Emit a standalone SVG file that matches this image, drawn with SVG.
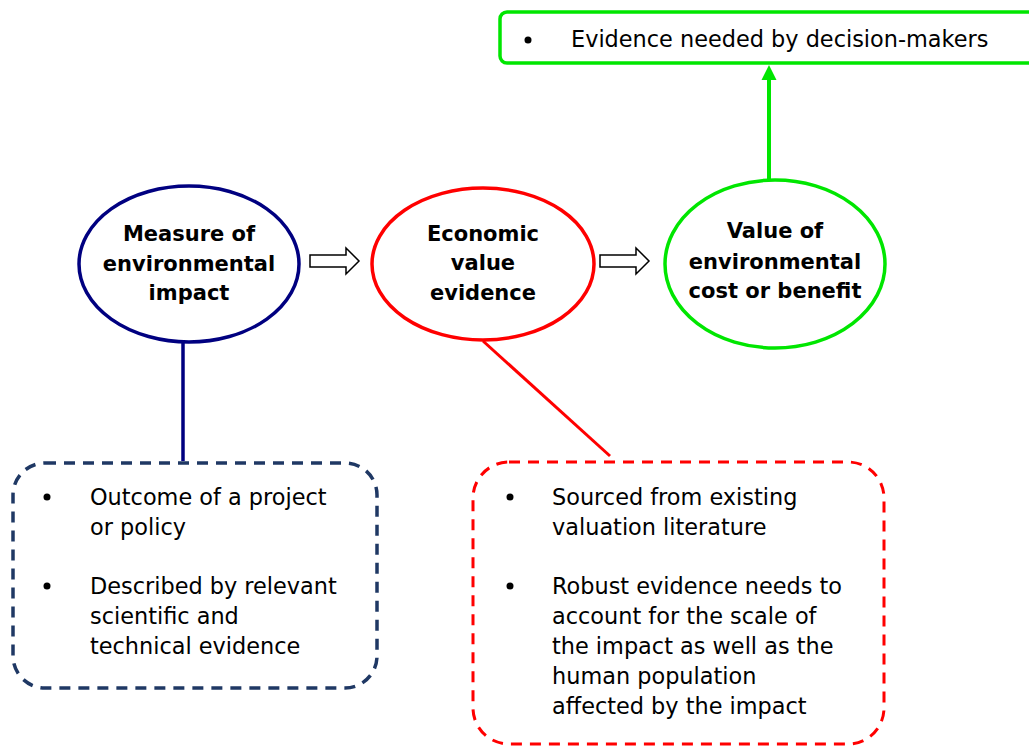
<svg xmlns="http://www.w3.org/2000/svg" width="1029" height="746" viewBox="0 0 1029 746">
<style>
text{font-family:"DejaVu Sans",sans-serif;font-size:22.4px;fill:#000}
.b{font-weight:bold;text-anchor:middle;font-size:21px}
.dot{fill:#000}
</style>
<defs>
<path id="harrow" d="M0,-6 L36,-6 L36,-13 L49,0 L36,13 L36,6 L0,6 Z" fill="#fff" stroke="#000" stroke-width="1.5"/>
</defs>
<rect width="1029" height="746" fill="#fff"/>
<g id="connectors">
<line x1="769" y1="180" x2="769" y2="78" stroke="#00e600" stroke-width="4"/>
<polygon points="769,65 776.5,80 761.5,80" fill="#00e600"/>
<line x1="183" y1="342" x2="183" y2="461" stroke="#000080" stroke-width="3.5"/>
<line x1="483" y1="341" x2="610" y2="456" stroke="#ff0000" stroke-width="3"/>
<use href="#harrow" x="310" y="261"/>
<use href="#harrow" x="600" y="261"/>
</g>
<g id="top-box">
<rect x="500" y="12" width="545" height="51" rx="7" fill="#fff" stroke="#00e600" stroke-width="3.5"/>
<circle class="dot" cx="528" cy="40" r="3.5"/>
<text x="571" y="47">Evidence needed by decision-makers</text>
</g>
<g id="measure">
<ellipse cx="189" cy="264" rx="110" ry="78" fill="#fff" stroke="#000080" stroke-width="3.5"/>
<text class="b" x="189" y="241">Measure of</text>
<text class="b" x="189" y="271">environmental</text>
<text class="b" x="189" y="300">impact</text>
</g>
<g id="economic">
<ellipse cx="483" cy="264" rx="111" ry="76" fill="#fff" stroke="#ff0000" stroke-width="3.5"/>
<text class="b" x="483" y="241">Economic</text>
<text class="b" x="483" y="270">value</text>
<text class="b" x="483" y="300">evidence</text>
</g>
<g id="value">
<ellipse cx="775" cy="264" rx="110" ry="84" fill="#fff" stroke="#00e600" stroke-width="3.5"/>
<text class="b" x="775" y="238">Value of</text>
<text class="b" x="775" y="269">environmental</text>
<text class="b" x="775" y="298">cost or benefit</text>
</g>
<g id="blue-box">
<rect x="13" y="463" width="364" height="225" rx="32" fill="none" stroke="#1f3864" stroke-width="3.5" stroke-dasharray="11 8"/>
<circle class="dot" cx="47" cy="497" r="3.5"/>
<text x="90" y="505">Outcome of a project</text>
<text x="90" y="535">or policy</text>
<circle class="dot" cx="47" cy="586" r="3.5"/>
<text x="90" y="594">Described by relevant</text>
<text x="90" y="624">scientific and</text>
<text x="90" y="654">technical evidence</text>
</g>
<g id="red-box">
<rect x="473" y="462" width="411" height="282" rx="36" fill="none" stroke="#ff0000" stroke-width="3" stroke-dasharray="11 8"/>
<circle class="dot" cx="510" cy="497" r="3.5"/>
<text x="552" y="505">Sourced from existing</text>
<text x="552" y="535">valuation literature</text>
<circle class="dot" cx="510" cy="586" r="3.5"/>
<text x="552" y="594">Robust evidence needs to</text>
<text x="552" y="624">account for the scale of</text>
<text x="552" y="654">the impact as well as the</text>
<text x="552" y="684">human population</text>
<text x="552" y="714">affected by the impact</text>
</g>
</svg>
